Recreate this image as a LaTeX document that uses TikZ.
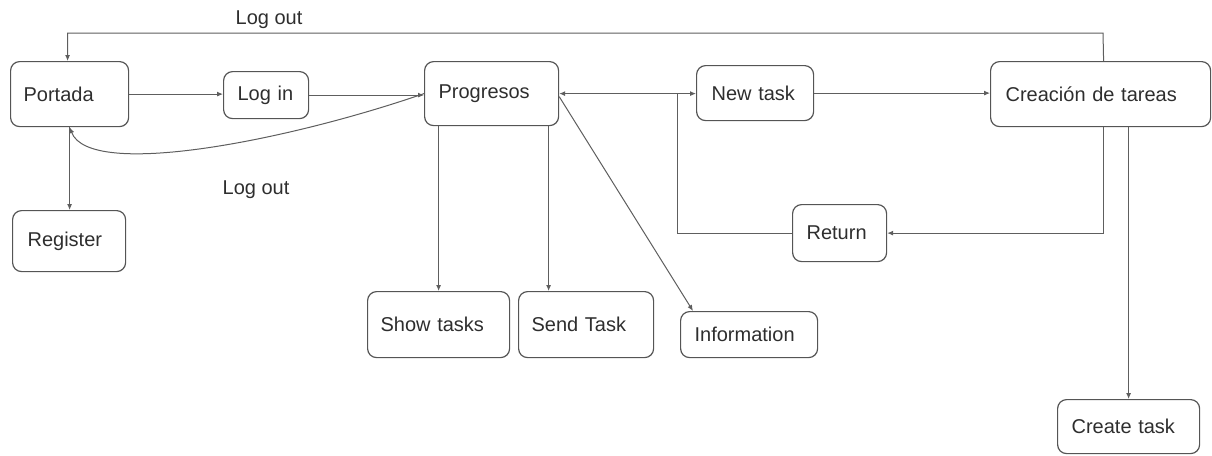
\documentclass[tikz,border=0pt]{standalone}
\usepackage{fontspec}
\setmainfont{Liberation Sans}
\usetikzlibrary{arrows.meta}
\definecolor{edgegray}{HTML}{5E5E5E}
\definecolor{boxgray}{HTML}{555555}
\definecolor{textgray}{HTML}{2E2E2E}
\tikzset{
  screen/.style={draw=boxgray, line width=1.2pt, rounded corners=9pt,
    anchor=north west, align=left, text=textgray,
    font=\fontsize{20}{24}\selectfont, inner ysep=0pt},
  flow/.style={draw=edgegray, line width=1pt,
    -{Latex[length=6pt,width=5pt]}},
  lbl/.style={text=textgray, font=\fontsize{20}{24}\selectfont, inner sep=0pt}
}
% box: name, x, y, width, height, left padding, text
\newcommand{\screenbox}[7]{%
  \pgfmathsetmacro{\tw}{#4-2*#6}%
  \node[screen, minimum height=#5pt, inner xsep=#6pt, text width=\tw pt] (#1) at (#2,#3) {#7};}
\begin{document}
\begin{tikzpicture}[x=1pt, y=-1pt]
\useasboundingbox (0,0) rectangle (1212,455);

\screenbox{portada}{10}{61}{118}{65}{13}{Portada}
\screenbox{login}{223}{71}{85}{47}{14}{Log in}
\screenbox{progresos}{424}{61}{134}{64}{14}{Progresos}
\screenbox{newtask}{696}{65}{117}{55}{15}{New task}
\screenbox{creacion}{990}{61}{220}{65}{15}{Creación de tareas}
\screenbox{register}{12}{210}{113}{61}{15}{Register}
\screenbox{ret}{792}{204}{94}{57}{14}{Return}
\screenbox{show}{367}{291}{142}{66}{13}{Show tasks}
\screenbox{send}{518}{291}{135}{66}{13}{Send Task}
\screenbox{info}{680}{311}{137}{46}{14}{Information}
\screenbox{create}{1057}{399}{142}{54}{14}{Create task}

% main row
\draw[flow] (portada.east) -- (portada.east -| login.west);
\draw[flow] (login.east) -- (login.east -| progresos.west);
\draw[flow, {Latex[length=6pt,width=5pt]}-{Latex[length=6pt,width=5pt]}]
  (progresos.east) -- (progresos.east -| newtask.west);
\draw[flow] (newtask.east) -- (newtask.east -| creacion.west);

% return path back to Progresos
\coordinate (junction) at (677,93);
\draw[draw=edgegray, line width=1pt] (ret.west) -| (junction);
\draw[flow] ([xshift=3pt]creacion.south) |- (ret.east);
\draw[flow] (create.north |- creacion.south) -- (create.north);

% logout loop over the top
\coordinate (loopcorner) at (1103,33);
\draw[flow] ([xshift=3pt]creacion.north) -- (loopcorner) -| ([xshift=-2pt]portada.north);
\node[lbl] (logouttop) at (269,20) {Log out};

% logout curve from Progresos
\draw[flow] (progresos.west) .. controls (290,140) and (90,180) .. (portada.south);
\node[lbl] (logoutlow) at (256,190) {Log out};

% register
\draw[flow] (portada.south) -- (portada.south |- register.north);

% Progresos children
\draw[flow] (show.north |- progresos.south) -- (show.north);
\draw[flow] ([xshift=57pt]progresos.south) -- ([xshift=57pt]progresos.south |- send.north);
\draw[flow] ([yshift=-3pt]progresos.east) -- ([xshift=13pt]info.north west);
\end{tikzpicture}
\end{document}
